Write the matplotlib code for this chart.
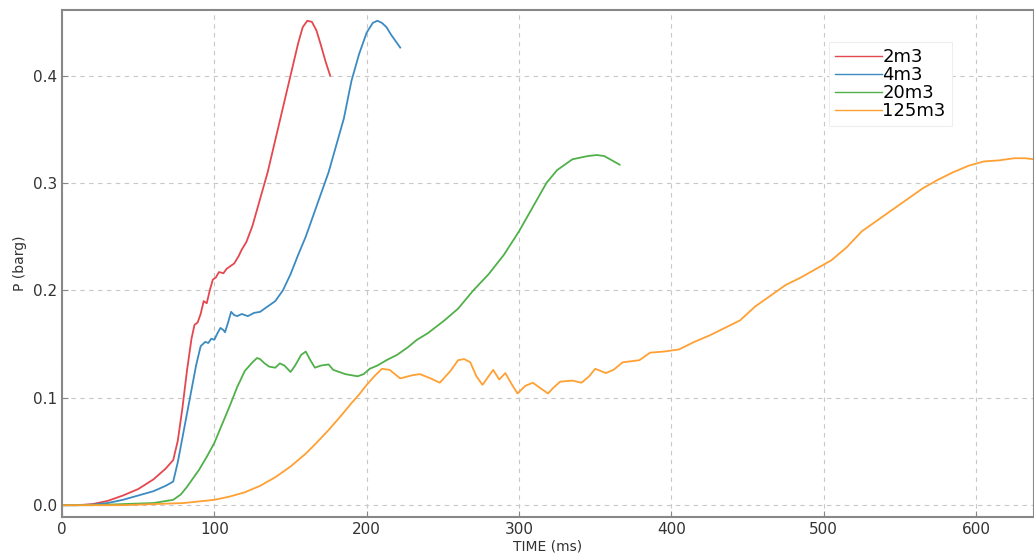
import matplotlib
matplotlib.use("Agg")
import matplotlib.pyplot as plt

# Pressure traces (time in ms, pressure in barg)
t_2m3 = [0, 10, 20, 30, 40, 50, 60, 68, 73, 76, 79, 82, 85, 87, 89, 91, 93, 95, 97, 99,
         101, 103, 106, 108, 110, 113, 116, 118, 121, 125, 130, 135, 140, 145, 150, 155,
         158, 161, 164, 167, 170, 173, 176]
p_2m3 = [0, 0, 0.001, 0.004, 0.009, 0.015, 0.024, 0.034, 0.042, 0.06, 0.09, 0.125, 0.155,
         0.168, 0.170, 0.178, 0.19, 0.188, 0.20, 0.21, 0.212, 0.217, 0.216, 0.22, 0.222,
         0.225, 0.232, 0.238, 0.245, 0.26, 0.285, 0.31, 0.34, 0.37, 0.40, 0.43, 0.445,
         0.451, 0.450, 0.442, 0.428, 0.413, 0.40]

t_4m3 = [0, 10, 20, 30, 40, 50, 60, 68, 73, 76, 80, 84, 88, 91, 94, 96, 98, 100, 102, 104,
         106, 107, 109, 111, 113, 115, 118, 122, 126, 130, 135, 140, 145, 150, 155, 160,
         165, 170, 175, 180, 185, 190, 195, 200, 204, 207, 210, 213, 216, 219, 222]
p_4m3 = [0, 0, 0.0005, 0.002, 0.005, 0.009, 0.013, 0.018, 0.022, 0.04, 0.07, 0.10, 0.13,
         0.148, 0.152, 0.151, 0.155, 0.154, 0.16, 0.165, 0.163, 0.161, 0.17, 0.18, 0.177,
         0.176, 0.178, 0.176, 0.179, 0.18, 0.185, 0.19, 0.20, 0.215, 0.233, 0.25, 0.27,
         0.29, 0.31, 0.335, 0.36, 0.395, 0.42, 0.44, 0.449, 0.451, 0.449, 0.445, 0.438,
         0.432, 0.426]

t_20m3 = [0, 20, 40, 60, 73, 78, 82, 86, 90, 95, 100, 105, 110, 115, 120, 125, 128, 130,
          133, 136, 140, 143, 146, 150, 153, 157, 160, 163, 166, 170, 175, 178, 182, 186,
          190, 194, 198, 202, 207, 213, 220, 227, 233, 240, 251, 260, 270, 280, 290, 300,
          310, 318, 325, 335, 345, 351, 356, 361, 366]
p_20m3 = [0, 0, 0.001, 0.002, 0.005, 0.01, 0.017, 0.025, 0.033, 0.045, 0.058, 0.075, 0.092,
          0.11, 0.125, 0.133, 0.137, 0.136, 0.132, 0.129, 0.128, 0.132, 0.13, 0.124, 0.13,
          0.14, 0.143, 0.135, 0.128, 0.13, 0.131, 0.126, 0.124, 0.122, 0.121, 0.12, 0.122,
          0.127, 0.13, 0.135, 0.14, 0.147, 0.154, 0.16, 0.172, 0.183, 0.2, 0.215, 0.233,
          0.255, 0.28, 0.30, 0.312, 0.322, 0.325, 0.326, 0.325, 0.321, 0.317]

t_125m3 = [0, 40, 60, 80, 100, 110, 120, 130, 140, 150, 160, 167, 175, 183, 190, 195, 200,
           205, 210, 215, 222, 230, 235, 242, 248, 255, 260, 264, 268, 272, 276, 280, 283,
           287, 291, 295, 299, 304, 309, 314, 319, 323, 327, 335, 341, 346, 350, 357, 362,
           368, 379, 386, 395, 405, 415, 425, 435, 445, 455, 465, 475, 485, 495, 505, 515,
           525, 535, 545, 555, 565, 575, 585, 595, 605, 615, 625, 632, 638]
p_125m3 = [0, 0, 0.001, 0.002, 0.005, 0.008, 0.012, 0.018, 0.026, 0.036, 0.048, 0.058, 0.07,
           0.083, 0.095, 0.103, 0.112, 0.12, 0.127, 0.126, 0.118, 0.121, 0.122, 0.118, 0.114,
           0.125, 0.135, 0.136, 0.133, 0.12, 0.112, 0.12, 0.126, 0.117, 0.123, 0.113, 0.104,
           0.111, 0.114, 0.109, 0.104, 0.11, 0.115, 0.116, 0.114, 0.12, 0.127, 0.123, 0.126,
           0.133, 0.135, 0.142, 0.143, 0.145, 0.152, 0.158, 0.165, 0.172, 0.185, 0.195,
           0.205, 0.212, 0.22, 0.228, 0.24, 0.255, 0.265, 0.275, 0.285, 0.295, 0.303, 0.31,
           0.316, 0.32, 0.321, 0.323, 0.323, 0.322]

labels = ["2m3", "4m3", "20m3", "125m3"]
colors = ["#e5474f", "#3b8bc2", "#50b04a", "#ffa033"]

plt.rcParams.update({"font.family": "DejaVu Sans"})

fig = plt.figure(figsize=(10.34, 5.56), dpi=100)
ax = fig.add_axes([62 / 1034, 39 / 556, 972 / 1034, 507 / 556])

for t, p, lab, c in zip([t_2m3, t_4m3, t_20m3, t_125m3],
                        [p_2m3, p_4m3, p_20m3, p_125m3], labels, colors):
    ax.plot(t, p, color=c, linewidth=1.3, label=lab)

ax.set_xlim(0, 638)
ax.set_ylim(-0.011, 0.461)
ax.set_xticks([0, 100, 200, 300, 400, 500, 600])
ax.set_yticks([0.0, 0.1, 0.2, 0.3, 0.4])
ax.set_xlabel("TIME (ms)", fontsize=10, labelpad=2, color="#333333")
ax.set_ylabel("P (barg)", fontsize=10, color="#333333")
ax.grid(True, linestyle=(0, (4, 4)), color="#c8c8c8", linewidth=0.8)
ax.tick_params(direction="in", length=4, labelsize=11, colors="#888888", labelcolor="#333333")
for s in ax.spines.values():
    s.set_color("#888888")
    s.set_linewidth(1.5)

leg = ax.legend(loc="upper right", bbox_to_anchor=(0.925, 0.955), fontsize=13,
                handlelength=2.6, handletextpad=0.0, labelspacing=0.0,
                borderpad=0.35, fancybox=False, framealpha=1, edgecolor="#eeeeee")
leg.get_frame().set_linewidth(0.8)
for line in leg.get_lines():
    line.set_linewidth(1.0)

fig.savefig("out.png", dpi=100)
